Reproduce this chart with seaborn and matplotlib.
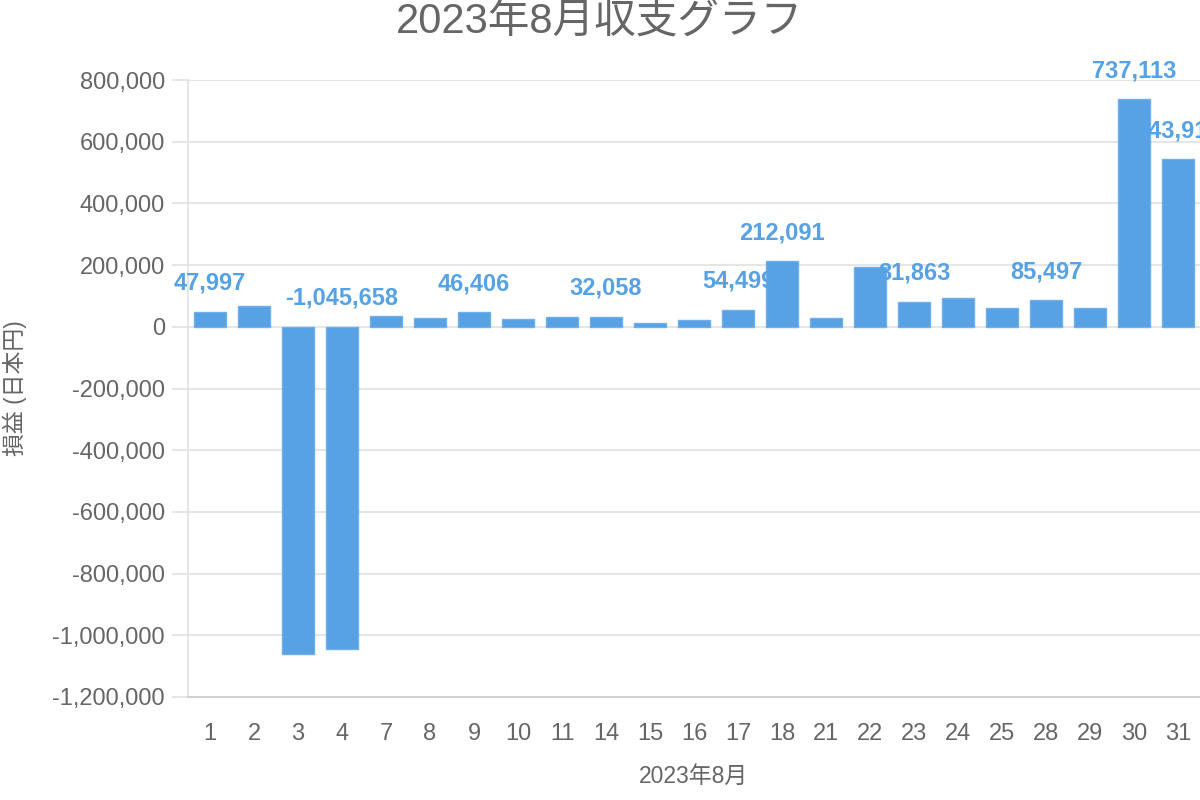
import matplotlib
matplotlib.use("Agg")
import matplotlib.pyplot as plt
import seaborn as sns
import pandas as pd
from matplotlib.ticker import FuncFormatter

sns.set_style("white")
plt.rcParams['font.family'] = ['Liberation Sans', 'Noto Sans CJK JP', 'DejaVu Sans']

days = ['1', '2', '3', '4', '7', '8', '9', '10', '11', '14', '15', '16',
        '17', '18', '21', '22', '23', '24', '25', '28', '29', '30', '31']
profit = [47997, 68000, -1062000, -1045658, 36000, 28000, 46406, 24000, 31000,
          32058, 12000, 22000, 54499, 212091, 27000, 195000, 81863, 93000,
          62500, 85497, 62000, 737113, 543912]
# labels that the original chart leaves visible
shown_labels = ['1', '4', '9', '14', '17', '18', '23', '28', '30', '31']

title = '2023年8月収支グラフ'
x_label = '2023年8月'
y_label = '損益 (日本円)'

bar_color = '#57a1e5'
text_gray = '#666666'
grid_gray = '#e2e2e2'

df = pd.DataFrame({'day': days, 'profit': profit})

fig = plt.figure(figsize=(12, 8), dpi=100)
ax = fig.add_axes([188 / 1200, 103 / 800, 1 - 188 / 1200, 617 / 800])

sns.barplot(data=df, x='day', y='profit', order=days, color=bar_color,
            saturation=1, width=0.72, edgecolor='#6eb0ec', linewidth=1, ax=ax,
            zorder=3)

ax.set_ylim(-1200000, 800000)
ax.set_yticks(range(-1200000, 800001, 200000))
ax.yaxis.set_major_formatter(FuncFormatter(lambda v, p: f'{int(v):,}'))
ax.set_xlim(-0.5, len(days) - 0.5)

ax.grid(axis='y', color=grid_gray, linewidth=1.2, zorder=0)
ax.grid(axis='x', visible=False)
for side in ['top', 'right']:
    ax.spines[side].set_visible(False)
ax.spines['left'].set_color(grid_gray)
ax.spines['left'].set_linewidth(1.2)
ax.spines['bottom'].set_color('#cccccc')
ax.spines['bottom'].set_linewidth(1.2)

ax.tick_params(axis='y', length=11.5, width=1.2, color=grid_gray, pad=5,
               labelsize=17, labelcolor=text_gray, left=True)
ax.tick_params(axis='x', length=0, pad=19, labelsize=17, labelcolor=text_gray)

ax.set_xlabel(x_label, fontsize=16.5, color=text_gray, labelpad=14)
ax.set_ylabel(y_label, fontsize=16.5, color=text_gray, labelpad=18)
fig.suptitle(title, fontsize=30, color=text_gray, x=0.5, y=0.998, va='top')

for i, (d, v) in enumerate(zip(days, profit)):
    if d not in shown_labels:
        continue
    ax.annotate(f'{v:,}', xy=(i, max(v, 0)), xytext=(0, 22),
                textcoords='offset pixels', ha='center', va='baseline',
                fontsize=17, fontweight='bold', color=bar_color,
                annotation_clip=False, zorder=5)

fig.savefig('out.png', dpi=100)
